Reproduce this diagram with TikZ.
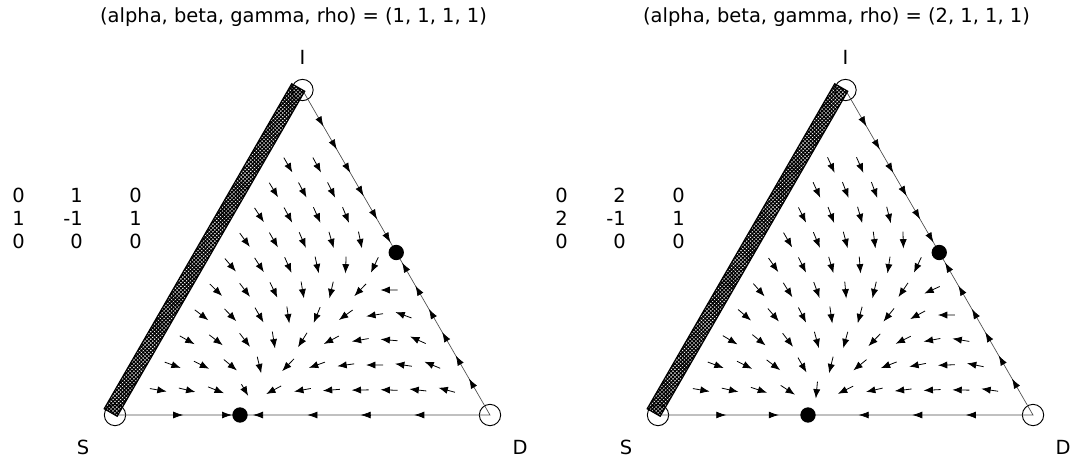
\documentclass[tikz,border=0pt]{standalone}
\usepackage{fontspec}
\setmainfont{DejaVu Sans}
\usetikzlibrary{arrows.meta,patterns.meta,calc}

\tikzstyle{corner} = [circle, draw, line width=0.7pt, minimum size=16pt, inner sep=0pt]
\tikzstyle{rest} = [circle, fill, minimum size=11.5pt, inner sep=0pt]
\tikzstyle{txt} = [inner sep=0pt, font=\fontsize{14.6}{17.5}\selectfont]
\tikzstyle{side} = [line width=0.5pt, black!70]
\tikzstyle{flow} = [line width=0.6pt, -{Latex[length=7pt,width=5.4pt]}]
\tikzstyle{onside} = [line width=0.5pt, -{Latex[length=7.5pt,width=5.2pt]}]
\tikzstyle{band} = [draw, line width=0.9pt, pattern={Hatch[angle=45,distance=2pt,line width=1pt]}]

\begin{document}
\begin{tikzpicture}[x=0.75pt,y=-0.75pt]
\useasboundingbox (0,0) rectangle (1073,458);
\foreach \p/\ox/\al/\dt/\sd in {1/0/1/0.3333/{0.17,0.30,0.38,0.525,0.667,0.81},
                                2/543/2/0.4/{0.17,0.31,0.547,0.69,0.833}} {
\begin{scope}[shift={(\ox,0)}]
    \node[txt] (title\p) at (293.5,17) {(alpha, beta, gamma, rho) = (\al, 1, 1, 1)};
    \node[txt] (labS\p) at (83,447) {S};
    \node[txt] (labD\p) at (520,447) {D};
    \node[txt] (labI\p) at (302.5,57) {I};

    \node[txt, anchor=east] (m\p-1-1) at (25,195) {0};
    \node[txt, anchor=east] (m\p-1-2) at (83,195) {\al};
    \node[txt, anchor=east] (m\p-1-3) at (142,195) {0};
    \node[txt, anchor=east] (m\p-2-1) at (25,218) {\al};
    \node[txt, anchor=east] (m\p-2-2) at (83,218) {-1};
    \node[txt, anchor=east] (m\p-2-3) at (142,218) {1};
    \node[txt, anchor=east] (m\p-3-1) at (25,241) {0};
    \node[txt, anchor=east] (m\p-3-2) at (83,241) {0};
    \node[txt, anchor=east] (m\p-3-3) at (142,241) {0};

    \node[corner] (S\p) at (115,415) {};
    \node[corner] (D\p) at (490,415) {};
    \node[corner] (I\p) at (302.5,90) {};
    \draw[side] (S\p.center) -- (D\p.center) -- (I\p.center);

    \foreach \i in {1,...,11} {
        \pgfmathtruncatemacro\jtop{min(10,12-\i)}
        \foreach \j in {1,...,\jtop} {
            \pgfmathsetmacro\xD{\i/13}
            \pgfmathsetmacro\xI{\j/13}
            \pgfmathsetmacro\xS{1-\xD-\xI}
            \pgfmathsetmacro\pbar{\al*\xS*\xD+\xD*(\al*\xS-\xD+\xI)}
            \pgfmathsetmacro\vx{375*\xD*(\al*\xS-\xD+\xI-\pbar)-187.5*\xI*\pbar}
            \pgfmathsetmacro\vy{325*\xI*\pbar}
            \pgfmathsetmacro\vl{sqrt(\vx*\vx+\vy*\vy)}
            \pgfmathsetmacro\hx{min(8.5,0.75*\vl)*\vx/\vl}
            \pgfmathsetmacro\hy{min(8.5,0.75*\vl)*\vy/\vl}
            \pgfmathsetmacro\ax{115+375*\xD+187.5*\xI-\hx}
            \pgfmathsetmacro\ay{415-325*\xI-\hy}
            \pgfmathsetmacro\bx{115+375*\xD+187.5*\xI+\hx}
            \pgfmathsetmacro\by{415-325*\xI+\hy}
            \draw[flow] (\ax,\ay) -- (\bx,\by);
        }
    }

    \foreach \t in {0.1,0.171,0.243,0.314,0.386,0.457,0.543,0.614,0.686,0.757,0.829,0.9} {
        \pgfmathsetmacro\ta{\t-0.012*sign(0.5-\t)}
        \pgfmathsetmacro\tb{\t+0.012*sign(0.5-\t)}
        \draw[onside] ($(I\p.center)!\ta!(D\p.center)$) -- ($(I\p.center)!\tb!(D\p.center)$);
    }
    \foreach \t in \sd {
        \pgfmathsetmacro\ta{\t-0.012*sign(\dt-\t)}
        \pgfmathsetmacro\tb{\t+0.012*sign(\dt-\t)}
        \draw[onside] ($(S\p.center)!\ta!(D\p.center)$) -- ($(S\p.center)!\tb!(D\p.center)$);
    }

    \draw[band] ($(S\p.center)+(2.2,1.25)$) -- ($(I\p.center)+(2.2,1.25)$)
        -- ($(I\p.center)+(-10.8,-6.25)$) -- ($(S\p.center)+(-10.8,-6.25)$) -- cycle;

    \node[rest] (fSD\p) at ($(S\p.center)!\dt!(D\p.center)$) {};
    \node[rest] (fID\p) at ($(I\p.center)!0.5!(D\p.center)$) {};
\end{scope}
}
\end{tikzpicture}
\end{document}
